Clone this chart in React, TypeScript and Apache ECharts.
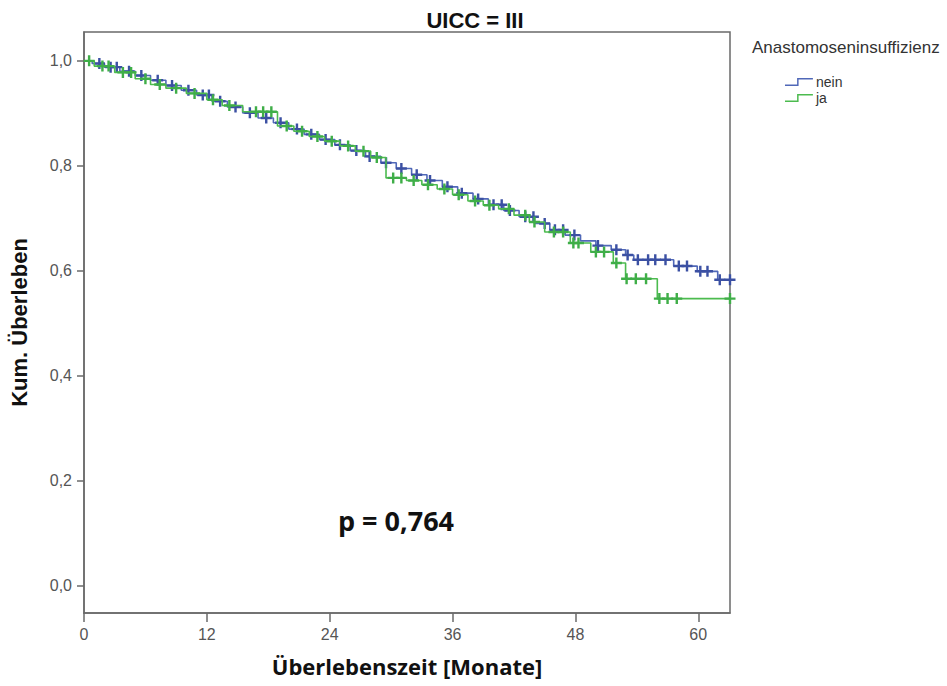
import React, { useEffect, useRef } from "react";
import * as echarts from "echarts";

// Kaplan-Meier step data (months, cumulative survival after the step)
const neinTimes = [0.8, 2.0, 3.5, 5.0, 6.5, 8.0, 9.5, 11.0, 12.5, 14.0, 15.5, 17.0, 18.5, 20.0, 21.5, 23.0, 24.5, 26.0, 27.5, 29.0, 30.5, 32.0, 33.5, 35.0, 36.5, 38.0, 39.5, 41.0, 42.5, 44.0, 45.5, 47.0, 48.5, 50.0, 51.5, 52.9, 53.7, 57.6, 59.9, 61.9];
const neinSurv = [0.995, 0.988, 0.980, 0.972, 0.963, 0.953, 0.944, 0.935, 0.923, 0.912, 0.901, 0.891, 0.882, 0.870, 0.860, 0.850, 0.840, 0.829, 0.818, 0.806, 0.795, 0.783, 0.772, 0.760, 0.748, 0.737, 0.726, 0.715, 0.703, 0.690, 0.678, 0.668, 0.657, 0.648, 0.640, 0.630, 0.621, 0.609, 0.599, 0.583];
const neinCensor = [1.5, 2.6, 3.2, 4.4, 5.6, 7.2, 8.6, 10.2, 11.6, 12.2, 13.3, 14.8, 16.2, 17.8, 19.2, 20.8, 22.2, 23.6, 25.0, 26.6, 27.9, 29.5, 31.0, 32.5, 33.8, 35.5, 36.9, 38.5, 40.0, 40.8, 41.6, 43.1, 43.9, 45.0, 46.0, 46.8, 47.9, 50.2, 52.0, 53.1, 54.1, 55.1, 55.8, 56.8, 58.1, 58.9, 60.2, 60.9, 62.1, 63.1];

const jaTimes = [1.0, 3.0, 5.0, 6.5, 8.0, 10.0, 12.0, 13.5, 15.5, 18.9, 20.5, 22.0, 23.5, 25.0, 26.5, 28.0, 29.5, 31.5, 33.0, 34.5, 36.0, 37.5, 39.0, 40.5, 42.0, 43.5, 45.0, 47.5, 49.5, 51.7, 52.9, 56.0];
const jaSurv = [0.990, 0.978, 0.966, 0.955, 0.948, 0.938, 0.926, 0.915, 0.903, 0.876, 0.866, 0.856, 0.847, 0.838, 0.828, 0.816, 0.777, 0.772, 0.764, 0.756, 0.745, 0.733, 0.725, 0.718, 0.706, 0.693, 0.674, 0.653, 0.636, 0.615, 0.585, 0.547];
const jaCensor = [0.5, 1.8, 2.4, 3.8, 4.6, 6.0, 7.4, 9.0, 10.8, 12.6, 14.2, 16.8, 17.5, 18.3, 19.8, 21.3, 22.8, 24.2, 25.8, 27.3, 28.6, 30.2, 31.0, 32.2, 33.6, 35.2, 36.6, 38.2, 39.6, 41.5, 43.1, 44.0, 45.9, 46.8, 47.8, 48.3, 50.0, 50.8, 52.0, 53.0, 53.9, 54.9, 56.2, 57.0, 57.9, 63.1];

const xMax = 63.1;
const xTicks = [0, 12, 24, 36, 48, 60];
const yTicks = [0, 0.2, 0.4, 0.6, 0.8, 1.0];
const groupNames = ["nein", "ja"];
const pValueText = "p = 0,764";

const survAt = (times: number[], surv: number[], t: number) => {
  let s = 1;
  for (let i = 0; i < times.length; i++) if (times[i] <= t) s = surv[i];
  return s;
};

const stepData = (times: number[], surv: number[]) => {
  const d: number[][] = [[0, 1]];
  times.forEach((t, i) => d.push([t, surv[i]]));
  d.push([xMax, surv[surv.length - 1]]);
  return d;
};

const censorData = (times: number[], surv: number[], cens: number[]) =>
  cens.map((c) => [c, survAt(times, surv, c)]);

const PLUS = "path://M3.9,0H6.1V3.9H10V6.1H6.1V10H3.9V6.1H0V3.9H3.9Z";
const STEP_ICON = "path://M0,7H13V0H30V1.6H14.6V8.6H0Z";

const BLUE_LINE = "#5068b8";
const BLUE_MARK = "#3b50a3";
const GREEN_LINE = "#4cbb4f";
const GREEN_MARK = "#3fae48";

export default function App() {
  const ref = useRef<HTMLDivElement>(null);
  useEffect(() => {
    if (!ref.current) return;
    const chart = echarts.init(ref.current, null, { renderer: "svg" });
    const font = "Liberation Sans, Arial, sans-serif";
    chart.setOption({
      animation: false,
      backgroundColor: "#ffffff",
      title: {
        text: "UICC = III",
        left: 470,
        textAlign: "center",
        top: 4,
        textStyle: { fontFamily: font, fontWeight: "bold", fontSize: 22, color: "#111" },
      },
      legend: {
        data: [
          { name: groupNames[0], icon: STEP_ICON },
          { name: groupNames[1], icon: STEP_ICON },
        ],
        orient: "vertical",
        left: 780,
        top: 70,
        itemWidth: 30,
        itemHeight: 8,
        itemGap: 2,
        selectedMode: false,
        textStyle: { fontFamily: font, fontSize: 14, color: "#333", padding: [0, 0, 0, -3] },
      },
      grid: {
        left: 79,
        top: 32,
        right: 947 - 730,
        bottom: 686 - 613,
        show: true,
        borderColor: "#6a6a6a",
        borderWidth: 1.5,
        backgroundColor: "transparent",
      },
      xAxis: {
        type: "value",
        min: 0,
        max: xMax,
        name: "Überlebenszeit [Monate]",
        nameLocation: "middle",
        nameGap: 42,
        nameTextStyle: { fontFamily: "Open Sans, sans-serif", fontWeight: "bold", fontSize: 22, color: "#111" },
        splitLine: { show: false },
        axisLine: { show: true, onZero: false, lineStyle: { color: "#6a6a6a", width: 1.5 } },
        axisTick: { show: true, length: 9, customValues: xTicks, lineStyle: { color: "#6a6a6a", width: 1.5 } },
        axisLabel: {
          customValues: xTicks,
          margin: 13,
          fontFamily: font,
          fontSize: 16,
          color: "#555",
        },
      },
      yAxis: {
        type: "value",
        min: -0.052,
        max: 1.055,
        name: "Kum. Überleben",
        nameLocation: "middle",
        nameGap: 54,
        nameRotate: 90,
        nameTextStyle: { fontFamily: font, fontWeight: "bold", fontSize: 22, color: "#111" },
        splitLine: { show: false },
        axisLine: { show: true, onZero: false, lineStyle: { color: "#6a6a6a", width: 1.5 } },
        axisTick: { show: true, length: 7, customValues: yTicks, lineStyle: { color: "#6a6a6a", width: 1.5 } },
        axisLabel: {
          customValues: yTicks,
          margin: 12,
          fontFamily: font,
          fontSize: 16,
          color: "#555",
          formatter: (v: number) => v.toFixed(1).replace(".", ","),
        },
      },
      graphic: [
        {
          type: "text",
          x: 752,
          y: 47,
          style: {
            text: "Anastomoseninsuffizienz",
            fontFamily: font,
            fontSize: 17,
            fill: "#333",
            verticalAlign: "middle",
          },
        },
        {
          type: "text",
          x: 338,
          y: 520,
          style: {
            text: pValueText,
            fontFamily: "Open Sans, sans-serif",
            fontWeight: "bold",
            fontSize: 27,
            fill: "#111",
            verticalAlign: "middle",
          },
        },
      ],
      series: [
        {
          name: groupNames[0],
          type: "line",
          step: "end",
          symbol: "none",
          data: stepData(neinTimes, neinSurv),
          lineStyle: { color: BLUE_LINE, width: 1.6 },
          itemStyle: { color: BLUE_LINE },
          z: 2,
        },
        {
          name: groupNames[0] + " zensiert",
          type: "scatter",
          symbol: PLUS,
          symbolSize: 11,
          data: censorData(neinTimes, neinSurv, neinCensor),
          itemStyle: { color: BLUE_MARK, opacity: 1 },
          z: 3,
        },
        {
          name: groupNames[1],
          type: "line",
          step: "end",
          symbol: "none",
          data: stepData(jaTimes, jaSurv),
          lineStyle: { color: GREEN_LINE, width: 1.6 },
          itemStyle: { color: GREEN_LINE },
          z: 4,
        },
        {
          name: groupNames[1] + " zensiert",
          type: "scatter",
          symbol: PLUS,
          symbolSize: 11,
          data: censorData(jaTimes, jaSurv, jaCensor),
          itemStyle: { color: GREEN_MARK, opacity: 1 },
          z: 5,
        },
      ],
    });
    return () => chart.dispose();
  }, []);
  return (
    <div
      ref={ref}
      style={{ position: "fixed", left: 0, top: 0, width: 947, height: 686, background: "#fff" }}
    />
  );
}
